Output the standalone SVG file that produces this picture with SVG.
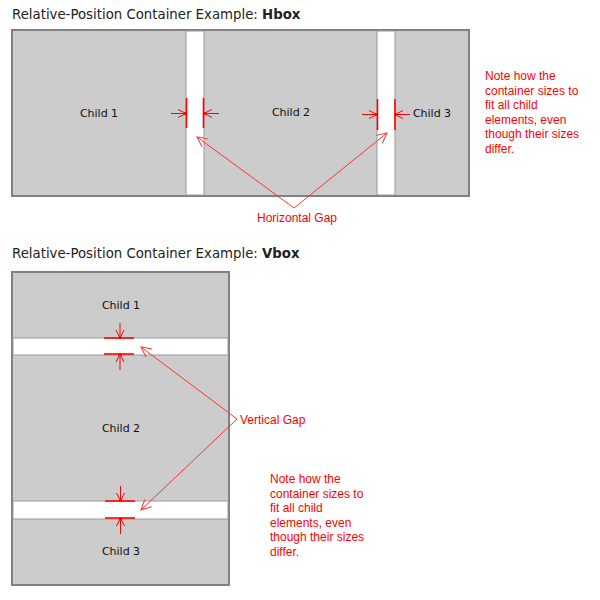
<svg xmlns="http://www.w3.org/2000/svg" width="600" height="600" viewBox="0 0 600 600">
<style>
.title{font-family:"DejaVu Sans",Verdana,sans-serif;font-size:13.3px;fill:#222}
.child{font-family:"DejaVu Sans",Verdana,sans-serif;font-size:11px;fill:#111;text-anchor:middle}
.note{font-family:"Liberation Sans",Arial,sans-serif;font-size:12px;fill:#f00}
.box{fill:#cccccc;stroke:#808080;stroke-width:2}
.gap{fill:#fff;stroke:#999;stroke-width:1}
.mark{stroke:#f00;stroke-width:1.6;fill:none}
.ptr{stroke:#f00;stroke-width:1;fill:none}
.lead{stroke:#f33;stroke-width:1;fill:none}
</style>
<defs>
<marker id="tip" viewBox="0 0 10 10" refX="9" refY="5" markerWidth="10" markerHeight="10" markerUnits="userSpaceOnUse" orient="auto">
<path d="M1,1 L9,5 L1,9" fill="none" stroke="#f00" stroke-width="1"/>
<circle cx="8.5" cy="5" r="1.5" fill="#f00"/>
</marker>
<marker id="open" viewBox="0 0 12 12" refX="11" refY="6" markerWidth="12" markerHeight="12" markerUnits="userSpaceOnUse" orient="auto">
<path d="M1,1 L11,6 L1,11" fill="none" stroke="#f33" stroke-width="1"/>
</marker>
</defs>

<text class="title" x="12" y="19">Relative-Position Container Example: <tspan font-weight="bold">Hbox</tspan></text>
<g id="hbox">
<rect class="box" x="12" y="30" width="457" height="166"/>
<rect class="gap" x="186" y="31" width="18" height="164"/>
<rect class="gap" x="377" y="31" width="18" height="164"/>
</g>
<g id="h-child1"><text class="child" x="99" y="117">Child 1</text></g>
<g id="h-child2"><text class="child" x="291" y="116">Child 2</text></g>
<g id="h-child3"><text class="child" x="432" y="117">Child 3</text></g>
<g id="h-note"><text class="note" x="485" y="80"><tspan x="485">Note how the</tspan><tspan x="485" dy="14.6">container sizes to</tspan><tspan x="485" dy="14.6">fit all child</tspan><tspan x="485" dy="14.6">elements, even</tspan><tspan x="485" dy="14.6">though their sizes</tspan><tspan x="485" dy="14.6">differ.</tspan></text></g>
<g id="h-gap-label"><text class="note" x="257" y="222">Horizontal Gap</text></g>

<text class="title" x="12" y="258">Relative-Position Container Example: <tspan font-weight="bold">Vbox</tspan></text>
<g id="vbox">
<rect class="box" x="12" y="272" width="217" height="313"/>
<rect class="gap" x="13" y="338" width="215" height="17"/>
<rect class="gap" x="13" y="501" width="215" height="18"/>
</g>
<g id="v-child1"><text class="child" x="121" y="309">Child 1</text></g>
<g id="v-child2"><text class="child" x="121" y="432">Child 2</text></g>
<g id="v-child3"><text class="child" x="121" y="555">Child 3</text></g>
<g id="v-note"><text class="note" x="270" y="483"><tspan x="270">Note how the</tspan><tspan x="270" dy="14.6">container sizes to</tspan><tspan x="270" dy="14.6">fit all child</tspan><tspan x="270" dy="14.6">elements, even</tspan><tspan x="270" dy="14.6">though their sizes</tspan><tspan x="270" dy="14.6">differ.</tspan></text></g>
<g id="v-gap-label"><text class="note" x="240" y="424">Vertical Gap</text></g>

<g id="connectors">
<line class="mark" x1="186.5" y1="98" x2="186.5" y2="128"/>
<line class="mark" x1="203.5" y1="98" x2="203.5" y2="128"/>
<line class="ptr" x1="171" y1="113.5" x2="186" y2="113.5" marker-end="url(#tip)"/>
<line class="ptr" x1="219" y1="113.5" x2="204" y2="113.5" marker-end="url(#tip)"/>
<line class="mark" x1="377.5" y1="99" x2="377.5" y2="130"/>
<line class="mark" x1="395" y1="99" x2="395" y2="130"/>
<line class="ptr" x1="362" y1="114.5" x2="377" y2="114.5" marker-end="url(#tip)"/>
<line class="ptr" x1="410" y1="114.5" x2="395" y2="114.5" marker-end="url(#tip)"/>
<line class="lead" x1="294" y1="208" x2="197" y2="137" marker-end="url(#open)"/>
<line class="lead" x1="294" y1="208" x2="387" y2="133" marker-end="url(#open)"/>
<line class="mark" x1="104" y1="338" x2="134" y2="338"/>
<line class="mark" x1="104" y1="354" x2="134" y2="354"/>
<line class="ptr" x1="120" y1="323" x2="120" y2="338" marker-end="url(#tip)"/>
<line class="ptr" x1="120" y1="370" x2="120" y2="354" marker-end="url(#tip)"/>
<line class="mark" x1="105" y1="501" x2="135" y2="501"/>
<line class="mark" x1="105" y1="518" x2="135" y2="518"/>
<line class="ptr" x1="120.5" y1="486" x2="120.5" y2="501" marker-end="url(#tip)"/>
<line class="ptr" x1="120.5" y1="534" x2="120.5" y2="518" marker-end="url(#tip)"/>
<line class="lead" x1="237" y1="419" x2="141" y2="347" marker-end="url(#open)"/>
<line class="lead" x1="237" y1="419" x2="141" y2="510" marker-end="url(#open)"/>
</g>
</svg>
